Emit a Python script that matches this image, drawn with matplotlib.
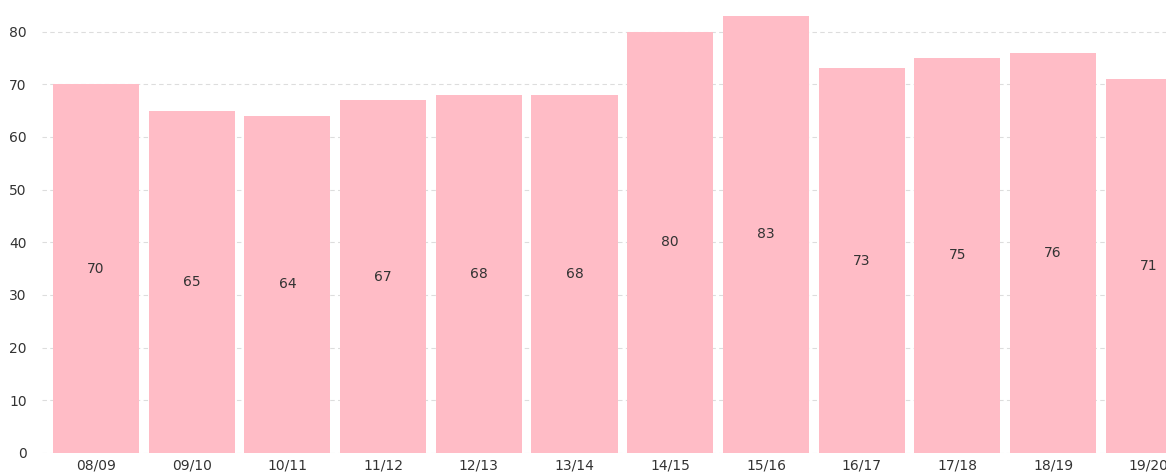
import numpy as np
import matplotlib.pyplot as plt

# season labels and values
seasons = ["08/09", "09/10", "10/11", "11/12", "12/13", "13/14",
           "14/15", "15/16", "16/17", "17/18", "18/19", "19/20"]
values = [70, 65, 64, 67, 68, 68, 80, 83, 73, 75, 76, 71]
yticks = [0, 10, 20, 30, 40, 50, 60, 70, 80]

fig = plt.figure(figsize=(11.66, 4.74), dpi=100)
ax = fig.add_axes([42 / 1166, 21 / 474, 1 - 42 / 1166, 1 - 21 / 474])

x = np.arange(len(seasons))
bars = ax.bar(x, values, width=0.9, color="#FFBCC6", zorder=2)

# value labels in the middle of each bar
for xi, v in zip(x, values):
    ax.text(xi, v / 2, str(v), ha="center", va="center",
            fontsize=10, color="#333333", zorder=3)

ax.set_xlim(-0.564, 11.18)
ax.set_ylim(0, 86)
ax.set_xticks(x)
ax.set_xticklabels(seasons)
ax.set_yticks(yticks)

ax.grid(axis="y", linestyle=(0, (4, 3)), color="#dddddd", linewidth=0.8, zorder=0)
ax.set_axisbelow(True)
for s in ax.spines.values():
    s.set_visible(False)
ax.tick_params(axis="both", length=0, labelsize=10, colors="#333333")
ax.tick_params(axis="y", pad=11)
ax.tick_params(axis="x", pad=4)

fig.savefig("out.png", dpi=100)
